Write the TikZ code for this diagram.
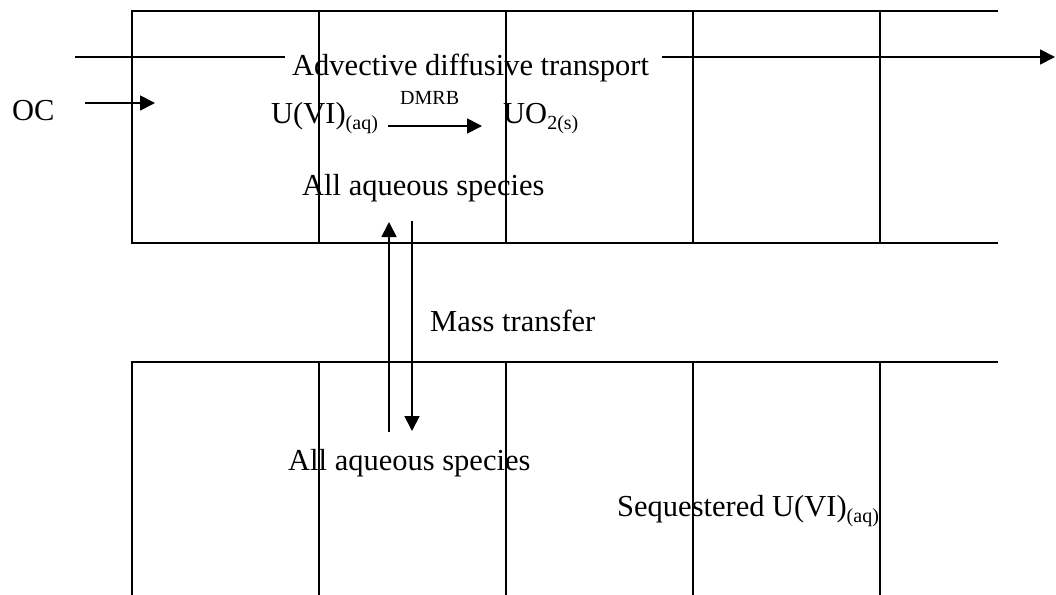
\documentclass[tikz,border=0pt]{standalone}
\usepackage{fontspec}
\setmainfont{Liberation Serif}
\usetikzlibrary{arrows.meta}
\newcommand{\mysub}[1]{\raisebox{-6.5pt}{\fontsize{20pt}{20pt}\selectfont #1}}
\begin{document}
\begin{tikzpicture}[x=1pt,y=-1pt,
  frame/.style={line width=1.8pt, line cap=rect},
  arr/.style={-{Triangle[length=15pt,width=15pt]}, line width=1.8pt},
  lbl/.style={font=\fontsize{30.5pt}{36pt}\selectfont, inner sep=0pt, anchor=base west},
  smalllbl/.style={font=\fontsize{20pt}{24pt}\selectfont, inner sep=0pt, anchor=base west}]
\useasboundingbox (0,0) rectangle (1056,594);

% upper frame
\draw[frame] (132,11) -- (997,11);
\draw[frame] (132,243) -- (997,243);
\foreach \xx in {132,319,506,693,880} \draw[frame] (\xx,11) -- (\xx,243);
% lower frame
\draw[frame] (132,362) -- (997,362);
\foreach \xx in {132,319,506,693,880} \draw[frame] (\xx,362) -- (\xx,594);

% texts
\node[lbl] (adv) at (292,75) {Advective diffusive transport};
\node[lbl] (oc) at (12,120) {OC};
\node[lbl] (uvi) at (271,123) {U(VI)\mysub{(aq)}};
\node[smalllbl] (dmrb) at (400,104) {DMRB};
\node[lbl] (uo2) at (503,123) {UO\mysub{2(s)}};
\node[lbl] (aqtop) at (302,195) {All aqueous species};
\node[lbl] (mass) at (430,331) {Mass transfer};
\node[lbl] (aqbot) at (288,470) {All aqueous species};
\node[lbl] (seq) at (617,516) {Sequestered U(VI)\mysub{(aq)}};

% advective transport arrow
\coordinate (advL) at (75,57);
\coordinate (advR) at (1055,57);
\draw[frame, line cap=butt] (advL) -- ([xshift=-7pt]adv.west |- advL);
\draw[arr] ([xshift=13pt]adv.east |- advR) -- (advR);

% OC inflow
\coordinate (ocS) at (85,103);
\coordinate (ocE) at (155,103);
\draw[arr] (ocS) -- (ocE);

% reaction arrow
\coordinate (rxS) at (388,126);
\coordinate (rxE) at (482,126);
\draw[arr] (rxS) -- (rxE);

% mass transfer arrows
\coordinate (upS) at (389,432);
\coordinate (upE) at (389,222);
\draw[arr] (upS) -- (upE);
\coordinate (dnS) at (412,221);
\coordinate (dnE) at (412,431);
\draw[arr] (dnS) -- (dnE);
\end{tikzpicture}
\end{document}
